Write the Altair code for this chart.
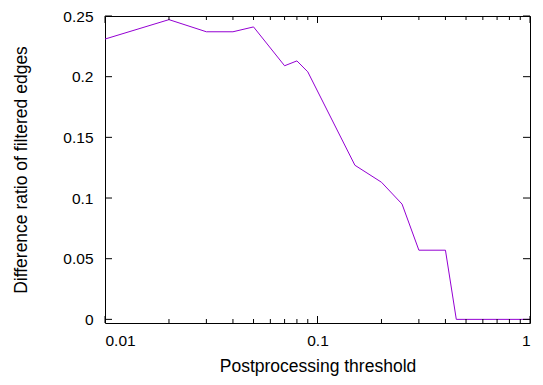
import altair as alt
import pandas as pd

# data
thresholds = [0.01, 0.02, 0.03, 0.04, 0.05, 0.07, 0.08, 0.09, 0.15, 0.2, 0.25, 0.3, 0.4, 0.45, 0.5, 0.6, 0.7, 0.8, 0.9, 1.0]
ratios = [0.231, 0.247, 0.237, 0.237, 0.241, 0.209, 0.213, 0.204, 0.127, 0.113, 0.095, 0.057, 0.057, 0.0, 0.0, 0.0, 0.0, 0.0, 0.0, 0.0]

x_minor = [0.02, 0.03, 0.04, 0.05, 0.06, 0.07, 0.08, 0.09,
           0.2, 0.3, 0.4, 0.5, 0.6, 0.7, 0.8, 0.9]
x_major = [0.01, 0.1, 1.0]
y_tick_values = [0.0, 0.05, 0.1, 0.15, 0.2, 0.25]

W, H = 425, 307
FONT = "Liberation Sans"
COLOR = "#9400D3"
MAJ, MIN = 7, 4

df = pd.DataFrame({"x": thresholds, "y": ratios})
xmaj = pd.DataFrame({"x": x_major})
xmin = pd.DataFrame({"x": x_minor})
yt = pd.DataFrame({"y": y_tick_values})

xscale = alt.Scale(type="log", domain=[0.01, 1.0], nice=False)
yscale = alt.Scale(domain=[-0.003, 0.25], nice=False, zero=False)
xaxis = alt.Axis(values=x_major, format="~g", title="Postprocessing threshold",
                 ticks=False, domain=False, grid=False, labelPadding=10, titlePadding=9)
yaxis = alt.Axis(values=y_tick_values, format="~g",
                 title="Difference ratio of filtered edges",
                 ticks=False, domain=False, grid=False, labelPadding=12, titlePadding=32)

X = alt.X("x:Q", scale=xscale, axis=xaxis)
Y = alt.Y("y:Q", scale=yscale, axis=yaxis)

line = alt.Chart(df).mark_line(color=COLOR, strokeWidth=1, clip=True).encode(x=X, y=Y)


def xticks(data, size, top):
    if top:
        return alt.Chart(data).mark_rule(color="black", strokeWidth=1).encode(
            x=X, y=alt.value(0), y2=alt.value(size))
    return alt.Chart(data).mark_rule(color="black", strokeWidth=1).encode(
        x=X, y=alt.value(H), y2=alt.value(H - size))


yl = alt.Chart(yt).mark_rule(color="black", strokeWidth=1).encode(
    y=Y, x=alt.value(0), x2=alt.value(MAJ))
yr = alt.Chart(yt).mark_rule(color="black", strokeWidth=1).encode(
    y=Y, x=alt.value(W), x2=alt.value(W - MAJ))

chart = alt.layer(
    line,
    xticks(xmaj, MAJ, False), xticks(xmin, MIN, False),
    xticks(xmaj, MAJ, True), xticks(xmin, MIN, True),
    yl, yr,
).properties(
    width=W, height=H,
    background="white",
    autosize=alt.AutoSizeParams(type="none"),
    padding={"left": 97, "top": 8, "right": 5, "bottom": 54},
).configure_view(stroke="black", strokeWidth=1).configure_axis(
    labelFont=FONT, titleFont=FONT, labelFontSize=15.5, titleFontSize=17.5,
    labelColor="black", titleColor="black", titleFontWeight="normal",
)

chart.save("out.html", embed_options={"renderer": "svg", "actions": False})
